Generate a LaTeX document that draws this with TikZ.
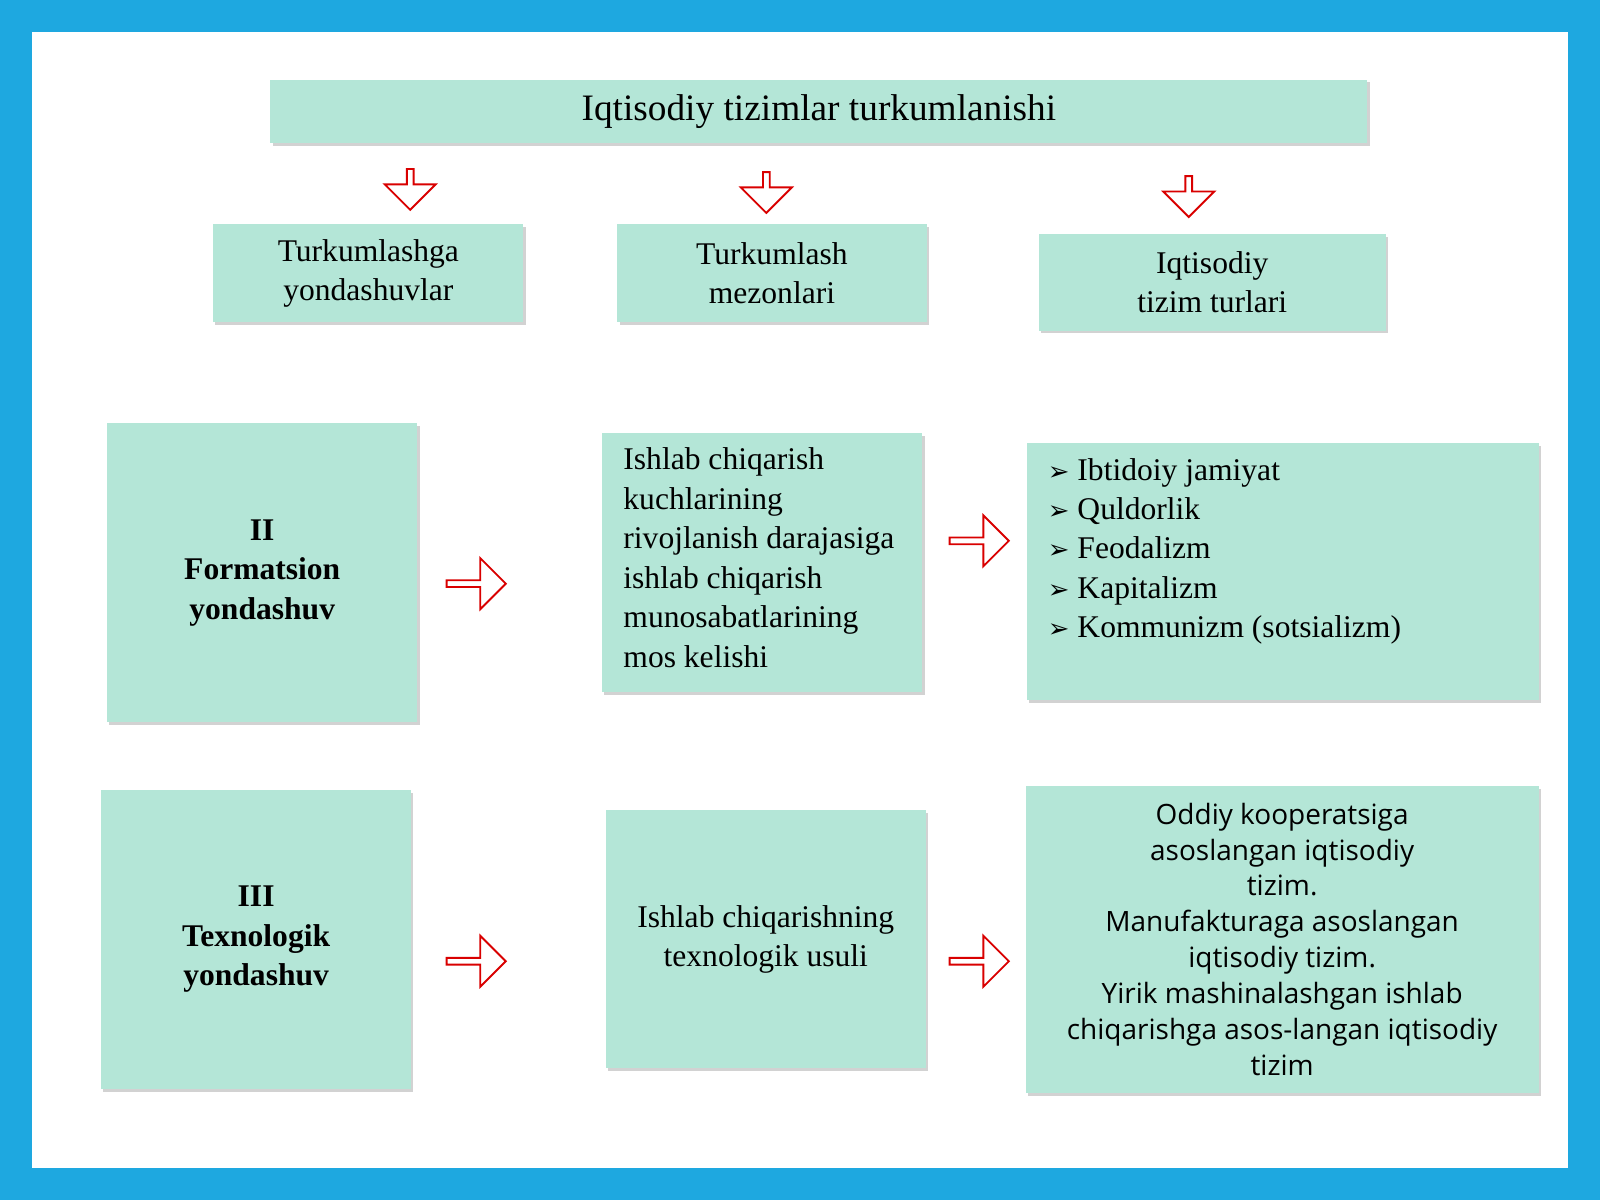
\documentclass[tikz,border=0pt]{standalone}
\usepackage{fontspec}
\setmainfont{Liberation Serif}
\newfontfamily\osans{Open Sans}
\newfontfamily\dvs{DejaVu Sans}
\usetikzlibrary{shapes.arrows,shadows}
\begin{document}
\begin{tikzpicture}[x=0.025cm,y=-0.025cm,
 box/.style={fill=boxc,draw=none,drop shadow={shadow xshift=1.5pt,shadow yshift=-2pt,opacity=0.35},inner sep=0pt,font=\fontsize{22}{27.5}\selectfont},
 arr/.style={single arrow,draw=red!85!black,fill=white,line width=1.3pt,minimum height=1.45cm,minimum width=1.25cm,single arrow head extend=0.15cm,inner sep=0pt}]
\definecolor{boxc}{HTML}{B4E6D7}
\definecolor{bordc}{HTML}{1EA8E0}
\fill[bordc] (0,0) rectangle (1568,1176);
\fill[white] (31,31) rectangle (1537,1145);
\useasboundingbox (0,0) rectangle (1568,1176);
\newcommand{\bx}[5]{\node[box,minimum width={(#3-#2)*0.025cm},minimum height={(#5-#4)*0.025cm}] (#1) at ({(#2+#3)/2},{(#4+#5)/2}) {};}
\bx{t}{265}{1340}{78}{140}
\node at (t) {\fontsize{26}{30}\selectfont Iqtisodiy tizimlar turkumlanishi};
\bx{a}{209}{513}{220}{316}
\bx{b}{605}{908}{220}{316}
\bx{c}{1018}{1358}{229}{324}
\node[align=center,font=\fontsize{22}{27.5}\selectfont] at (a) {Turkumlashga\\yondashuvlar};
\node[align=center,font=\fontsize{22}{27.5}\selectfont] at (b) {Turkumlash\\mezonlari};
\node[align=center,font=\fontsize{22}{27.5}\selectfont] at (c) {Iqtisodiy\\tizim turlari};
\bx{d}{105}{409}{415}{708}
\bx{e}{590}{904}{424}{678}
\bx{f}{1006}{1508}{434}{686}
\node[align=center,font=\bfseries\fontsize{22}{27.5}\selectfont] at (d) {II\\Formatsion\\yondashuv};
\node[align=left,anchor=north west,font=\fontsize{22}{27.5}\selectfont] at (606,434) {Ishlab chiqarish\\kuchlarining\\rivojlanish darajasiga\\ishlab chiqarish\\munosabatlarining\\mos kelishi};
\node[align=left,anchor=north west,font=\fontsize{22}{27.5}\selectfont] at (1022,444) {{\dvs\fontsize{18}{27.5}\selectfont ➢} Ibtidoiy jamiyat\\{\dvs\fontsize{18}{27.5}\selectfont ➢} Quldorlik\\{\dvs\fontsize{18}{27.5}\selectfont ➢} Feodalizm\\{\dvs\fontsize{18}{27.5}\selectfont ➢} Kapitalizm\\{\dvs\fontsize{18}{27.5}\selectfont ➢} Kommunizm (sotsializm)};
\bx{g}{99}{403}{774}{1067}
\bx{h}{594}{907}{794}{1047}
\bx{k}{1005}{1508}{770}{1071}
\node[align=center,font=\bfseries\fontsize{22}{27.5}\selectfont] at (g) {III\\Texnologik\\yondashuv};
\node[align=center,font=\fontsize{22}{27.5}\selectfont] at ([yshift=0pt]h) {Ishlab chiqarishning\\texnologik usuli};
\node[align=center,font=\osans\fontsize{19.5}{25}\selectfont] at (k) {Oddiy kooperatsiga\\asoslangan iqtisodiy\\tizim.\\Manufakturaga asoslangan\\iqtisodiy tizim.\\Yirik mashinalashgan ishlab\\chiqarishga asos-langan iqtisodiy\\tizim};
\node[arr,shape border rotate=270,minimum height=1.0cm,minimum width=1.25cm] (d1) at (402,184) {};
\node[arr,shape border rotate=270,minimum height=1.0cm,minimum width=1.25cm] (d2) at (751,187) {};
\node[arr,shape border rotate=270,minimum height=1.0cm,minimum width=1.25cm] (d3) at (1165,191) {};
\node[arr] (r1) at (465,572) {};
\node[arr] (r2) at (958,530) {};
\node[arr] (r3) at (465,942) {};
\node[arr] (r4) at (958,942) {};
\end{tikzpicture}
\end{document}
